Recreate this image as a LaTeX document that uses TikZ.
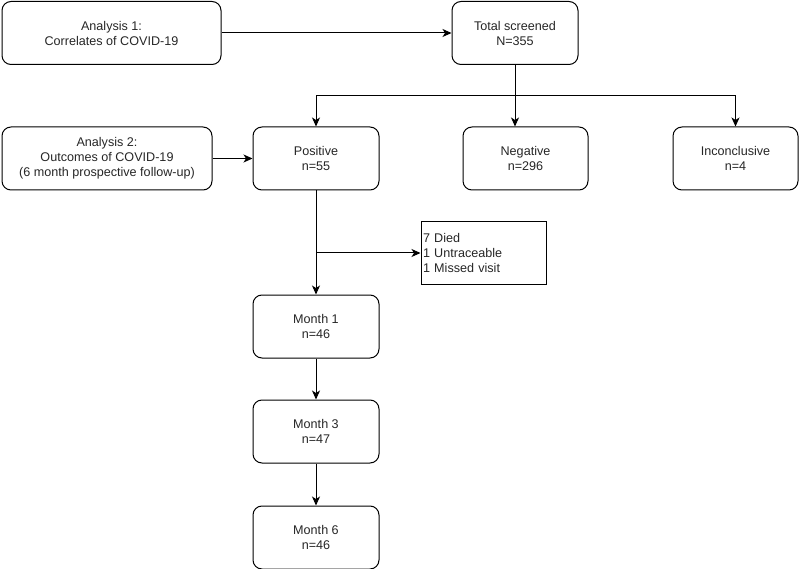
\documentclass[tikz,border=0pt]{standalone}
\usepackage{fontspec}
\setmainfont{Liberation Sans}
\usetikzlibrary{arrows.meta, positioning}

\begin{document}
\begin{tikzpicture}[x=1pt, y=-1pt,
    node distance=41pt,
    box/.style={draw, rounded corners=9pt, align=center, font=\fontsize{12.6}{15}\selectfont, text=black!85, minimum width=126pt, minimum height=63pt, line width=1pt},
    note/.style={draw, align=left, font=\fontsize{12.6}{15}\selectfont, text=black!85, minimum height=62pt, text width=121pt, inner sep=2pt, line width=1pt},
    arr/.style={-{Stealth[length=9pt, width=8pt, inset=2.5pt]}, line width=1pt}]
  \useasboundingbox (0,0) rectangle (800,569);
  \node[box, minimum width=219pt] (ana1) at (111.5,33) {Analysis 1:\\Correlates of COVID-19};
  \node[box] (total) at (515,33) {Total screened\\N=355};
  \node[box, minimum width=210pt] (ana2) at (107,158.5) {Analysis 2:\\Outcomes of COVID-19\\(6 month prospective follow-up)};
  \node[box] (pos) at (316,158.5) {Positive\\n=55};
  \node[box, minimum width=125pt] (neg) at (525.5,158.5) {Negative\\n=296};
  \node[box, minimum width=125pt] (inc) at (735.5,158.5) {Inconclusive\\n=4};
  \node[note] (lost) at (483.5,253) {7 Died\\1 Untraceable\\1 Missed visit};
  \node[box] (m1) at (316,326.5) {Month 1\\n=46};
  \node[box, below=of m1] (m3) {Month 3\\n=47};
  \node[box, below=42pt of m3] (m6) {Month 6\\n=46};
  \coordinate (split) at (515,96);
  \coordinate (drop) at (316,253);
  \draw[arr] (ana1) -- (total);
  \draw[arr] (total) -- (total |- neg.north);
  \draw[arr] (split) -| (pos);
  \draw[arr] (split) -| (inc);
  \draw[arr] (ana2) -- (ana2 -| pos.west);
  \draw[arr] (pos) -- (m1);
  \draw[arr] (drop) -- (lost);
  \draw[arr] (m1) -- (m3);
  \draw[arr] (m3) -- (m6);
\end{tikzpicture}
\end{document}
